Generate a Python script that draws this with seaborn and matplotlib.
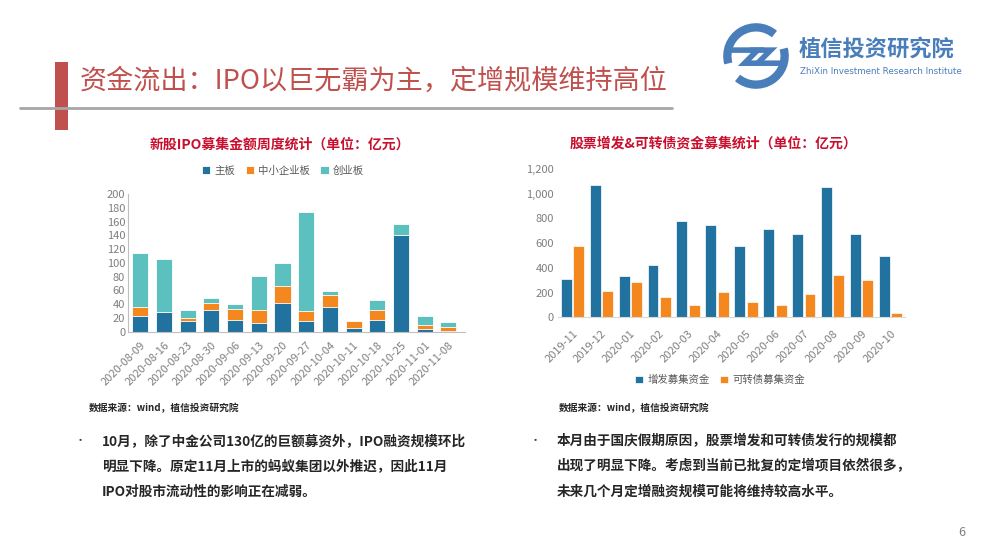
import numpy as np
import pandas as pd
import seaborn as sns
import matplotlib.pyplot as plt
from matplotlib.patches import Rectangle, Arc
from matplotlib.lines import Line2D
from matplotlib.ticker import FuncFormatter

sns.set_style("white")
plt.rcParams['font.family'] = ['Noto Sans CJK SC', 'DejaVu Sans']

# 新股IPO募集金额周度统计（亿元）
weeks = ['2020-08-09', '2020-08-16', '2020-08-23', '2020-08-30', '2020-09-06', '2020-09-13', '2020-09-20',
         '2020-09-27', '2020-10-04', '2020-10-11', '2020-10-18', '2020-10-25', '2020-11-01', '2020-11-08']
main_board = [23, 28, 16, 31, 17, 13, 41, 16, 36, 6, 17, 141, 4, 0.5]
sme_board = [13, 0, 4, 10, 16, 19, 26, 14, 17, 9, 14, 0, 6, 7]
chinext = [79, 78, 12, 8, 7, 49, 33, 144, 6, 0.5, 15, 15, 13, 7]

# 股票增发&可转债资金募集统计（亿元）
months = ['2019-11', '2019-12', '2020-01', '2020-02', '2020-03', '2020-04',
          '2020-05', '2020-06', '2020-07', '2020-08', '2020-09', '2020-10']
placement = [310, 1070, 337, 426, 779, 744, 574, 717, 674, 1057, 674, 493]
convertible = [580, 210, 283, 167, 100, 202, 121, 100, 186, 345, 299, 35]

blue = '#21729F'
orange = '#F5871F'
teal = '#5CC0BE'
red_title = '#C8102E'
grey_txt = '#7F7F7F'

fig = plt.figure(figsize=(10, 5.57), dpi=100)
W, H = 1000, 557

def fx(x):
    return x / W

def fy(y):
    return 1 - y / H

# 页眉
fig.add_artist(Line2D([fx(20), fx(672)], [fy(108), fy(108)], color='#A6A6A6', lw=2))
fig.add_artist(Rectangle((fx(55), fy(130)), fx(13), (130 - 62) / H, color='#C0504D', lw=0))
fig.text(fx(80), fy(81), '资金流出：IPO以巨无霸为主，定增规模维持高位', fontsize=19.5,
         color='#C0504D', va='center', ha='left')

# logo
logo_ax = fig.add_axes([fx(720), fy(92), fx(72), 72 / H])
logo_ax.set_xlim(-1.1, 1.1)
logo_ax.set_ylim(-1.1, 1.1)
logo_ax.set_aspect('equal')
logo_ax.axis('off')
lc = '#4A7EBB'
logo_ax.add_patch(Arc((0, 0), 1.75, 1.75, theta1=50, theta2=195, lw=6, color=lc))
logo_ax.add_patch(Arc((0, 0), 1.75, 1.75, theta1=230, theta2=375, lw=6, color=lc))
logo_ax.plot([-0.75, 0.05, -0.35, 0.75], [0.18, 0.18, -0.22, -0.22], color=lc, lw=4,
             solid_joinstyle='miter')
logo_ax.plot([-0.15, 0.45, 0.05], [0.18, 0.18, -0.22], color=lc, lw=4, solid_joinstyle='miter')
fig.text(fx(799), fy(49), '植信投资研究院', fontsize=16, fontweight='bold', color=lc, va='center')
fig.text(fx(800), fy(72), 'ZhiXin Investment Research Institute', fontsize=6.3, color=lc,
         va='center', family=['DejaVu Sans'])

# 左图：IPO 周度堆积柱
ax1 = fig.add_axes([fx(128), fy(331.7), fx(337), (331.7 - 194) / H])
total = [a + b + c for a, b, c in zip(main_board, sme_board, chinext)]
main_sme = [a + b for a, b in zip(main_board, sme_board)]
sns.barplot(x=weeks, y=total, color=teal, saturation=1, width=0.68, edgecolor='white',
            linewidth=0.6, label='创业板', ax=ax1)
sns.barplot(x=weeks, y=main_sme, color=orange, saturation=1, width=0.68, edgecolor='white',
            linewidth=0.6, label='中小企业板', ax=ax1)
sns.barplot(x=weeks, y=main_board, color=blue, saturation=1, width=0.68, edgecolor='white',
            linewidth=0.6, label='主板', ax=ax1)
ax1.set_xlim(-0.52, 13.7)
ax1.set_ylim(0, 200)
ax1.set_yticks(range(0, 201, 20))
for s in ['top', 'right']:
    ax1.spines[s].set_visible(False)
for s in ['left', 'bottom']:
    ax1.spines[s].set_color('#BFBFBF')
    ax1.spines[s].set_linewidth(0.8)
ax1.tick_params(axis='both', length=0, labelsize=8, labelcolor=grey_txt, pad=2)
ax1.tick_params(axis='x', pad=6)
plt.setp(ax1.get_xticklabels(), rotation=45, ha='right', rotation_mode='anchor')
ax1.set_xlabel('')
ax1.set_ylabel('')
h, l = ax1.get_legend_handles_labels()
ax1.legend(h[::-1], l[::-1], ncol=3, frameon=False, fontsize=7.5, labelcolor='#595959',
           handlelength=0.8, handleheight=0.8, handletextpad=0.4, columnspacing=1.0,
           loc='center', bbox_to_anchor=(fx(283), fy(171)), bbox_transform=fig.transFigure)
fig.text(fx(280), fy(145), '新股IPO募集金额周度统计（单位：亿元）', fontsize=10, fontweight='bold',
         color=red_title, ha='center', va='center')

# 右图：增发 & 可转债
df = pd.DataFrame({
    '月份': months * 2,
    '金额': placement + convertible,
    '类型': ['增发募集资金'] * len(months) + ['可转债募集资金'] * len(months),
})
ax2 = fig.add_axes([fx(558), fy(317.3), fx(347), (317.3 - 169) / H])
sns.barplot(data=df, x='月份', y='金额', hue='类型', palette=[blue, orange], saturation=1,
            width=0.86, gap=0.12, edgecolor='white', linewidth=0.5, ax=ax2)
ax2.set_xlim(-0.5, 11.5)
ax2.set_ylim(0, 1200)
ax2.set_yticks(range(0, 1201, 200))
ax2.yaxis.set_major_formatter(FuncFormatter(lambda v, p: f'{int(v):,}'))
for s in ['top', 'right', 'left']:
    ax2.spines[s].set_visible(False)
ax2.spines['bottom'].set_color('#D9D9D9')
ax2.spines['bottom'].set_linewidth(0.8)
ax2.tick_params(axis='both', length=0, labelsize=8, labelcolor=grey_txt, pad=3)
ax2.tick_params(axis='x', pad=8)
plt.setp(ax2.get_xticklabels(), rotation=45, ha='right', rotation_mode='anchor')
ax2.set_xlabel('')
ax2.set_ylabel('')
ax2.legend(ncol=2, frameon=False, fontsize=7.5, labelcolor='#595959',
           handlelength=0.8, handleheight=0.8, handletextpad=0.4, columnspacing=1.0,
           loc='center', bbox_to_anchor=(fx(720), fy(380)), bbox_transform=fig.transFigure)
fig.text(fx(714), fy(144), '股票增发&可转债资金募集统计（单位：亿元）', fontsize=10, fontweight='bold',
         color=red_title, ha='center', va='center')

# 数据来源
fig.text(fx(89), fy(408), '数据来源：wind，植信投资研究院', fontsize=7, color='#262626',
         fontweight='bold', va='center')
fig.text(fx(559), fy(408), '数据来源：wind，植信投资研究院', fontsize=7, color='#262626',
         fontweight='bold', va='center')

# 正文要点
left_lines = ['10月，除了中金公司130亿的巨额募资外，IPO融资规模环比',
              '明显下降。原定11月上市的蚂蚁集团以外推迟，因此11月',
              'IPO对股市流动性的影响正在减弱。']
right_lines = ['本月由于国庆假期原因，股票增发和可转债发行的规模都',
               '出现了明显下降。考虑到当前已批复的定增项目依然很多，',
               '未来几个月定增融资规模可能将维持较高水平。']
for xb, xt, lines in [(75, 102, left_lines), (530, 557, right_lines)]:
    fig.text(fx(xb), fy(441), '•', fontsize=8, color='#404040', va='center')
    for i, line in enumerate(lines):
        fig.text(fx(xt), fy(441 + 25.5 * i), line, fontsize=9.8, fontweight='bold',
                 color='#262626', va='center')

fig.text(fx(958), fy(533), '6', fontsize=9, color=grey_txt, va='center')

fig.savefig('out.png', dpi=100)
